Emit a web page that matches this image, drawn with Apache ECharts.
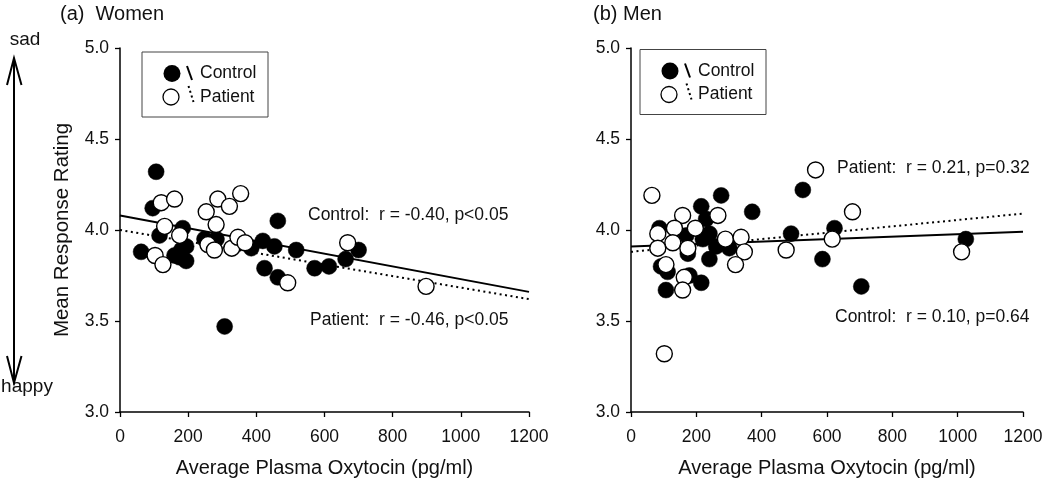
<!DOCTYPE html>
<html>
<head>
<meta charset="utf-8">
<script src="https://cdn.jsdelivr.net/npm/echarts@6/dist/echarts.min.js"></script>
<style>
html,body{margin:0;padding:0;background:#fff;}
#chart{width:1050px;height:483px;}
</style>
</head>
<body>
<div id="chart"></div>
<script>
// ---- data ----
const xTicks = [0, 200, 400, 600, 800, 1000, 1200];
const yTicks = [3.0, 3.5, 4.0, 4.5, 5.0];

const womenControlX = [106, 96, 116, 62, 184, 194, 160, 194, 175, 180, 248, 283, 307, 385, 419, 453, 463, 424, 463, 517, 571, 613, 662, 700];
const womenControlY = [4.32, 4.12, 3.97, 3.88, 4.01, 3.91, 3.86, 3.83, 3.85, 3.89, 3.95, 3.95, 3.47, 3.90, 3.94, 3.91, 4.05, 3.79, 3.74, 3.89, 3.79, 3.80, 3.84, 3.89];

const womenPatientX = [121, 160, 131, 175, 103, 126, 253, 287, 321, 354, 282, 258, 277, 328, 346, 367, 492, 668, 898];
const womenPatientY = [4.15, 4.17, 4.02, 3.97, 3.86, 3.81, 4.10, 4.17, 4.13, 4.20, 4.03, 3.92, 3.89, 3.90, 3.96, 3.93, 3.71, 3.93, 3.69];

const menControlX = [276, 215, 230, 371, 87, 240, 169, 220, 261, 301, 174, 240, 92, 112, 179, 215, 107, 490, 526, 586, 623, 705, 1025];
const menControlY = [4.19, 4.13, 4.06, 4.10, 4.01, 3.98, 3.97, 3.95, 3.91, 3.90, 3.87, 3.84, 3.80, 3.77, 3.75, 3.71, 3.67, 3.98, 4.22, 3.84, 4.01, 3.69, 3.95];

const menPatientX = [64, 158, 266, 133, 197, 82, 128, 82, 174, 289, 337, 347, 320, 107, 163, 158, 102, 475, 565, 678, 616, 1012];
const menPatientY = [4.19, 4.08, 4.08, 4.01, 4.01, 3.98, 3.93, 3.90, 3.90, 3.95, 3.96, 3.88, 3.81, 3.81, 3.74, 3.67, 3.32, 3.89, 4.33, 4.10, 3.95, 3.88];

const fitX = [0, 1200];
const womenControlFit = [4.08, 3.66];
const womenPatientFit = [4.00, 3.62];
const menControlFit = [3.91, 3.99];
const menPatientFit = [3.88, 4.09];

const titles = ['(a)  Women', '(b) Men'];
const xName = 'Average Plasma Oxytocin (pg/ml)';
const yName = 'Mean Response Rating';
const notesWomen = ['Control:  r = -0.40, p<0.05', 'Patient:  r = -0.46, p<0.05'];
const notesMen = ['Patient:  r = 0.21, p=0.32', 'Control:  r = 0.10, p=0.64'];
const legendNames = ['Control', 'Patient'];

// ---- chart ----
const FONT = "'Liberation Sans', Arial, sans-serif";
const TXT = '#111';
const zip = (a, b) => a.map((v, i) => [v, b[i]]);

function xAxis(gi) {
  return {
    type: 'value', gridIndex: gi, min: 0, max: 1200, interval: 200,
    name: xName, nameLocation: 'middle', nameGap: 46,
    nameTextStyle: { fontFamily: FONT, fontSize: 20, color: TXT },
    axisLine: { show: true, onZero: false, lineStyle: { color: '#000', width: 1.5 } },
    axisTick: { show: true, length: 5, lineStyle: { color: '#000', width: 1.3 } },
    axisLabel: { fontFamily: FONT, fontSize: 17.5, color: TXT, margin: 16, formatter: v => String(v) },
    splitLine: { show: false }
  };
}
function yAxis(gi, withName) {
  return {
    type: 'value', gridIndex: gi, min: 3, max: 5, interval: 0.5,
    name: withName ? yName : '', nameLocation: 'middle', nameGap: 47, nameRotate: 90,
    nameTextStyle: { fontFamily: FONT, fontSize: 20.5, color: TXT },
    axisLine: { show: true, onZero: false, lineStyle: { color: '#000', width: 1.5 } },
    axisTick: { show: true, length: 5, lineStyle: { color: '#000', width: 1.3 } },
    axisLabel: { fontFamily: FONT, fontSize: 17.5, color: TXT, margin: 11, formatter: v => v.toFixed(1) },
    splitLine: { show: false }
  };
}
function fitSeries(gi, ys, dotted) {
  return {
    type: 'line', xAxisIndex: gi, yAxisIndex: gi, data: zip(fitX, ys),
    symbol: 'none', silent: true, z: 1,
    lineStyle: dotted ? { color: '#000', width: 2, type: [2, 3.5] } : { color: '#000', width: 2 }
  };
}
function pts(gi, xs, ys, filled) {
  return {
    type: 'scatter', xAxisIndex: gi, yAxisIndex: gi, data: zip(xs, ys),
    symbol: 'circle', symbolSize: 16, z: filled ? 2 : 3,
    itemStyle: filled ? { color: '#000', borderColor: '#000', borderWidth: 0.5, opacity: 1 }
                      : { color: '#fff', borderColor: '#000', borderWidth: 1.4, opacity: 1 }
  };
}
function legendBox(x0, y0) {
  return [
    { type: 'rect', shape: { x: x0, y: y0, width: 126, height: 65 }, style: { fill: '#fff', stroke: '#444', lineWidth: 1 }, z: 10 },
    { type: 'circle', shape: { cx: x0 + 30, cy: y0 + 21.5, r: 8.5 }, style: { fill: '#000' }, z: 11 },
    { type: 'line', shape: { x1: x0 + 45, y1: y0 + 14, x2: x0 + 50, y2: y0 + 28 }, style: { stroke: '#000', lineWidth: 2 }, z: 11 },
    { type: 'text', style: { x: x0 + 58, y: y0 + 21.5, text: legendNames[0], fontFamily: FONT, fontSize: 17.5, fill: TXT, textVerticalAlign: 'middle', verticalAlign: 'middle' }, z: 11 },
    { type: 'circle', shape: { cx: x0 + 29, cy: y0 + 45, r: 8 }, style: { fill: '#fff', stroke: '#000', lineWidth: 1.3 }, z: 11 },
    { type: 'line', shape: { x1: x0 + 46.5, y1: y0 + 34, x2: x0 + 51.5, y2: y0 + 50 }, style: { stroke: '#000', lineWidth: 2, lineDash: [2, 3] }, z: 11 },
    { type: 'text', style: { x: x0 + 58, y: y0 + 45, text: legendNames[1], fontFamily: FONT, fontSize: 17.5, fill: TXT, textVerticalAlign: 'middle', verticalAlign: 'middle' }, z: 11 }
  ];
}
function txt(x, y, s, size) {
  return { type: 'text', style: { x: x, y: y, text: s, fontFamily: FONT, fontSize: size, fill: TXT, verticalAlign: 'middle', textVerticalAlign: 'middle' }, z: 12 };
}
function ctxt(x, y, s, size) {
  return { type: 'text', style: { x: x, y: y, text: s, fontFamily: FONT, fontSize: size, fill: TXT, align: 'center', textAlign: 'center', verticalAlign: 'middle', textVerticalAlign: 'middle' }, z: 12 };
}

const chart = echarts.init(document.getElementById('chart'), null, { renderer: 'canvas' });
chart.setOption({
  animation: false,
  backgroundColor: '#fff',
  grid: [
    { left: 120, top: 48, width: 409, height: 364 },
    { left: 631, top: 48, width: 392, height: 364 }
  ],
  xAxis: [xAxis(0), xAxis(1)],
  yAxis: [yAxis(0, true), yAxis(1, false)],
  series: [
    fitSeries(0, womenControlFit, false),
    fitSeries(0, womenPatientFit, true),
    pts(0, womenControlX, womenControlY, true),
    pts(0, womenPatientX, womenPatientY, false),
    fitSeries(1, menControlFit, false),
    fitSeries(1, menPatientFit, true),
    pts(1, menControlX, menControlY, true),
    pts(1, menPatientX, menPatientY, false)
  ],
  graphic: [].concat(
    legendBox(142, 52),
    legendBox(640, 49.5),
    [
      txt(60, 14, titles[0], 20),
      txt(593, 14, titles[1], 20),
      txt(308, 215, notesWomen[0], 17.5),
      txt(310, 320, notesWomen[1], 17.5),
      txt(837, 168, notesMen[0], 17.5),
      txt(835, 317, notesMen[1], 17.5),
      ctxt(25, 40, 'sad', 19),
      ctxt(27, 387, 'happy', 19),
      { type: 'line', shape: { x1: 14, y1: 58, x2: 14, y2: 383 }, style: { stroke: '#000', lineWidth: 2 }, z: 12 },
      { type: 'polyline', shape: { points: [[7, 85], [14, 58], [21.5, 85]] }, style: { stroke: '#000', lineWidth: 2, fill: null }, z: 12 },
      { type: 'polyline', shape: { points: [[7, 356], [14, 383], [21.5, 356]] }, style: { stroke: '#000', lineWidth: 2, fill: null }, z: 12 }
    ]
  )
});
</script>
</body>
</html>
